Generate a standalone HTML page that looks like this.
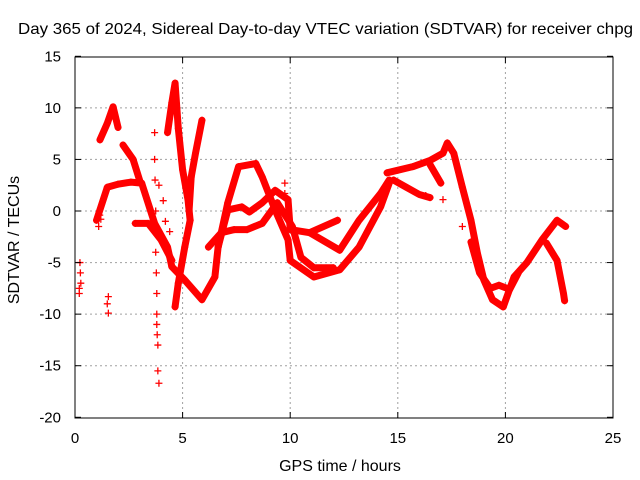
<!DOCTYPE html>
<html><head><meta charset="utf-8"><style>
body{margin:0;background:#fff}
svg{display:block;font-family:"Liberation Sans",sans-serif;font-size:15px}
</style></head><body>
<svg id="chart" width="640" height="480">
<rect x="0" y="0" width="640" height="480" fill="#fff"/>
<text x="18" y="34" font-size="16" textLength="615" lengthAdjust="spacingAndGlyphs">Day 365 of 2024, Sidereal Day-to-day VTEC variation (SDTVAR) for receiver chpg</text>
<text x="340" y="471" text-anchor="middle" font-size="16">GPS time / hours</text>
<text transform="translate(19,240) rotate(-90)" text-anchor="middle" font-size="16">SDTVAR / TECUs</text>
<g id="grid"></g><g id="marks"></g>
<rect x="75" y="57" width="538" height="361" fill="none" stroke="#000" stroke-width="1"/>
<g id="ticks"></g>
</svg>
<script>
const xTicks=[0,5,10,15,20,25];
const yTicks=[15,10,5,0,-5,-10,-15,-20];
// satellite tracks: hours and values
const t1_h=[1.0,1.5,2.0,2.6,3.1,3.7,4.3,4.5,5.1,5.9,6.5,6.65,7.1,7.6,8.4,8.7,9.3,9.9,10.0,11.1,12.3,13.2,14.2,14.6];
const t1_v=[-0.9,2.3,2.6,2.8,2.7,-1.2,-3.5,-5.4,-6.7,-8.6,-6.4,-3.5,0.8,4.3,4.6,3.3,0.1,-2.8,-4.8,-6.4,-5.7,-3.5,0.4,2.7];
const t2_h=[6.65,7.1,7.75,8.1,8.7,9.3,9.9,10.0,10.9,12.2];
const t2_v=[-3.5,0.1,0.4,-0.1,0.8,2.0,1.1,-1.8,-2.1,-0.9];
const t3_h=[10.9,12.3,13.2,14.2,14.6];
const t3_v=[-2.1,-3.8,-0.9,1.7,3.0];
const t4_h=[6.2,6.8,7.4,8.0,8.7,9.4,10.1,10.5,11.1,12.0];
const t4_v=[-3.5,-2.1,-1.8,-1.8,-1.2,0.8,-1.5,-4.5,-5.5,-5.5];
const t5_h=[14.5,15.7,16.5,17.1,17.3,17.6,18.0,18.4,18.7,19.0,19.4,19.9,20.4,21.0,21.7,22.4,22.8];
const t5_v=[3.7,4.3,4.9,5.6,6.6,5.6,2.3,-0.9,-4.1,-6.7,-8.6,-9.3,-6.4,-5.0,-2.8,-0.9,-1.5];
const t6_h=[14.8,15.4,16.0,16.5];
const t6_v=[3.0,2.3,1.6,1.3];
const t7_h=[16.5,17.0];
const t7_v=[4.5,2.7];
const t8_h=[18.4,18.8,19.3,19.7,20.2,20.6];
const t8_v=[-3,-6,-7.5,-7.2,-7.6,-6];
const t9_h=[21.9,22.4,22.7,22.75];
const t9_v=[-3.1,-4.8,-8.0,-8.7];
const tB_h=[1.16,1.5,1.77,2.0];
const tB_v=[6.9,8.5,10.1,8.1];
const tB2_h=[2.23,2.7,3.0];
const tB2_v=[6.4,5,3];
const tC_h=[4.3,4.5,4.65,4.8,5.0,5.25,5.35,5.1,4.8,4.65];
const tC_v=[7.6,10.5,12.4,8,4,1.1,-0.9,-3.5,-7,-9.3];
const tD_h=[5.9,5.6,5.4,5.3];
const tD_v=[8.8,5.6,3.3,0];
const tL_h=[2.8,3.4,4.0,4.5];
const tL_v=[-1.2,-1.2,-2.8,-4.8];
const tracks=[[t1_h,t1_v],[t2_h,t2_v],[t3_h,t3_v],[t4_h,t4_v],[t5_h,t5_v],[t6_h,t6_v],[t7_h,t7_v],[t8_h,t8_v],[t9_h,t9_v],[tB_h,tB_v],[tB2_h,tB2_v],[tC_h,tC_v],[tD_h,tD_v],[tL_h,tL_v]];
// isolated points
const ptsH=[0.2,0.23,0.25,0.27,0.2,1.55,1.5,1.55,1.15,1.1,1.2,3.7,3.7,3.72,3.75,3.75,3.75,3.78,3.8,3.8,3.8,3.82,3.85,3.85,3.9,3.9,4.1,4.2,4.4,4.3,3.5,9.75,9.75,17.1,18.0,16.3];
const ptsV=[-7.5,-5,-6,-7,-8,-8.3,-9,-9.9,-0.4,-1.5,-0.8,7.6,5,3,0,-2,-4,-6,-8,-10,-11,-12,-13,-15.5,-16.7,2.5,1,-1,-2,-4,-1,2.7,1.7,1.1,-1.5,1.5];
const X=h=>75+h*(538/25);
const Y=v=>211-v*(361/35);
const ns="http://www.w3.org/2000/svg";
const grid=document.getElementById('grid'),ticks=document.getElementById('ticks'),marks=document.getElementById('marks');
function mk(tag,attrs,parent){const e=document.createElementNS(ns,tag);for(const k in attrs)e.setAttribute(k,attrs[k]);parent.appendChild(e);return e;}
xTicks.forEach(t=>{
 if(t>0&&t<25){const g=mk('line',{x1:X(t),x2:X(t),y1:57,y2:418,stroke:'#a0a0a0','stroke-dasharray':'2,3'},grid);
 
 }
 const tl=mk('text',{x:X(t),y:443,'text-anchor':'middle'},ticks);tl.textContent=t;
 
 
 mk('line',{x1:X(t),x2:X(t),y1:418,y2:412,stroke:'#000'},ticks);
 mk('line',{x1:X(t),x2:X(t),y1:57,y2:63,stroke:'#000'},ticks);
});
yTicks.forEach(t=>{
 if(t<15&&t>-20){const g=mk('line',{x1:75,x2:613,y1:Y(t),y2:Y(t),stroke:'#a0a0a0','stroke-dasharray':'2,3'},grid);
 
 }
 const tl=mk('text',{x:61,y:Y(t)+5,'text-anchor':'end'},ticks);tl.textContent=t;
 
 
 mk('line',{x1:75,x2:81,y1:Y(t),y2:Y(t),stroke:'#000'},ticks);
 mk('line',{x1:613,x2:607,y1:Y(t),y2:Y(t),stroke:'#000'},ticks);
});
function plus(h,v){const x=X(h),y=Y(v);
 const p=mk('path',{d:`M${x-3.5},${y}h7M${x},${y-3.5}v7`,stroke:'#f00','stroke-width':1.3},marks);
 
 }
tracks.forEach(([hs,vs])=>{
 const pl=mk('polyline',{points:hs.map((h,i)=>X(h)+','+Y(vs[i])).join(' '),fill:'none',stroke:'#f00','stroke-width':7,'stroke-linejoin':'round','stroke-linecap':'round'},marks);
 
 
 hs.forEach((h,i)=>plus(h,vs[i]));
});
ptsH.forEach((h,i)=>plus(h,ptsV[i]));
</script>
</body></html>
